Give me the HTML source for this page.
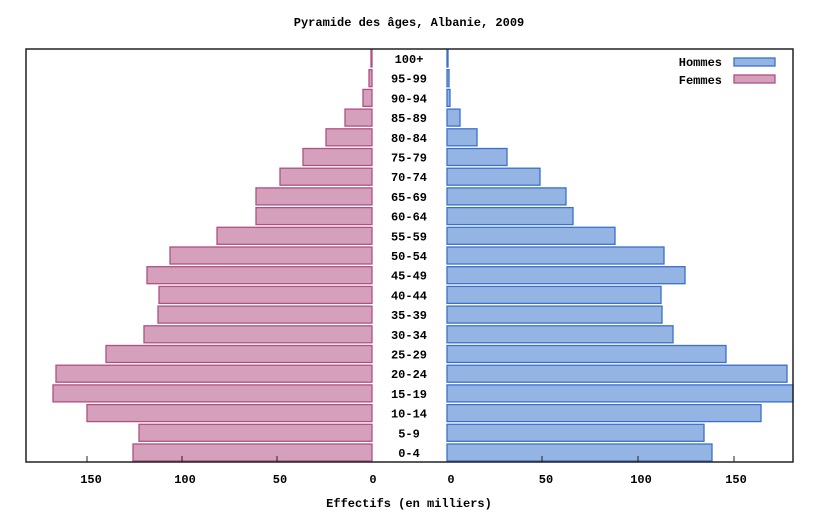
<!DOCTYPE html>
<html><head><meta charset="utf-8"><style>
html,body{margin:0;padding:0;background:#fff;}
svg text{font-family:"Liberation Mono",monospace;font-weight:bold;font-size:12px;fill:#000;}
.f{fill:#d4a0bc;stroke:#b05080;stroke-width:1.3}
.m{fill:#94b4e4;stroke:#3a70c8;stroke-width:1.3}
</style></head><body>
<svg width="819" height="512" xmlns="http://www.w3.org/2000/svg">
<text x="409" y="26" text-anchor="middle">Pyramide des âges, Albanie, 2009</text>
<g>
<rect class="f" x="371" y="50" width="1" height="17"/><rect class="m" x="447" y="50" width="1" height="17"/>
<rect class="f" x="369" y="69.7" width="3" height="17"/><rect class="m" x="447" y="69.7" width="2" height="17"/>
<rect class="f" x="363" y="89.4" width="9" height="17"/><rect class="m" x="447" y="89.4" width="3" height="17"/>
<rect class="f" x="345" y="109.1" width="27" height="17"/><rect class="m" x="447" y="109.1" width="13" height="17"/>
<rect class="f" x="326" y="128.8" width="46" height="17"/><rect class="m" x="447" y="128.8" width="30" height="17"/>
<rect class="f" x="303" y="148.5" width="69" height="17"/><rect class="m" x="447" y="148.5" width="60" height="17"/>
<rect class="f" x="280" y="168.2" width="92" height="17"/><rect class="m" x="447" y="168.2" width="93" height="17"/>
<rect class="f" x="256" y="187.9" width="116" height="17"/><rect class="m" x="447" y="187.9" width="119" height="17"/>
<rect class="f" x="256" y="207.6" width="116" height="17"/><rect class="m" x="447" y="207.6" width="126" height="17"/>
<rect class="f" x="217" y="227.3" width="155" height="17"/><rect class="m" x="447" y="227.3" width="168" height="17"/>
<rect class="f" x="170" y="247" width="202" height="17"/><rect class="m" x="447" y="247" width="217" height="17"/>
<rect class="f" x="147" y="266.7" width="225" height="17"/><rect class="m" x="447" y="266.7" width="238" height="17"/>
<rect class="f" x="159" y="286.4" width="213" height="17"/><rect class="m" x="447" y="286.4" width="214" height="17"/>
<rect class="f" x="158" y="306.1" width="214" height="17"/><rect class="m" x="447" y="306.1" width="215" height="17"/>
<rect class="f" x="144" y="325.8" width="228" height="17"/><rect class="m" x="447" y="325.8" width="226" height="17"/>
<rect class="f" x="106" y="345.5" width="266" height="17"/><rect class="m" x="447" y="345.5" width="279" height="17"/>
<rect class="f" x="56" y="365.2" width="316" height="17"/><rect class="m" x="447" y="365.2" width="340" height="17"/>
<rect class="f" x="53" y="384.9" width="319" height="17"/><rect class="m" x="447" y="384.9" width="346" height="17"/>
<rect class="f" x="87" y="404.6" width="285" height="17"/><rect class="m" x="447" y="404.6" width="314" height="17"/>
<rect class="f" x="139" y="424.3" width="233" height="17"/><rect class="m" x="447" y="424.3" width="257" height="17"/>
<rect class="f" x="133" y="444" width="239" height="17"/><rect class="m" x="447" y="444" width="265" height="17"/>
</g>
<g text-anchor="middle">
<text x="409" y="63">100+</text><text x="409" y="82.7">95-99</text><text x="409" y="102.4">90-94</text>
<text x="409" y="122.1">85-89</text><text x="409" y="141.8">80-84</text><text x="409" y="161.5">75-79</text>
<text x="409" y="181.2">70-74</text><text x="409" y="200.9">65-69</text><text x="409" y="220.6">60-64</text>
<text x="409" y="240.3">55-59</text><text x="409" y="260">50-54</text><text x="409" y="279.7">45-49</text>
<text x="409" y="299.4">40-44</text><text x="409" y="319.1">35-39</text><text x="409" y="338.8">30-34</text>
<text x="409" y="358.5">25-29</text><text x="409" y="378.2">20-24</text><text x="409" y="397.9">15-19</text>
<text x="409" y="417.6">10-14</text><text x="409" y="437.3">5-9</text><text x="409" y="457">0-4</text>
</g>
<rect x="26" y="49" width="767" height="413" fill="none" stroke="#222" stroke-width="1.5"/>
<g stroke="#222" stroke-width="1">
<line x1="87" y1="456" x2="87" y2="462"/><line x1="182" y1="456" x2="182" y2="462"/><line x1="277" y1="456" x2="277" y2="462"/>
<line x1="542" y1="456" x2="542" y2="462"/><line x1="638" y1="456" x2="638" y2="462"/><line x1="734" y1="456" x2="734" y2="462"/>
</g>
<g text-anchor="middle">
<text x="91" y="483">150</text><text x="185" y="483">100</text><text x="280" y="483">50</text><text x="373" y="483">0</text>
<text x="451" y="483">0</text><text x="546" y="483">50</text><text x="641" y="483">100</text><text x="736" y="483">150</text>
<text x="409" y="507">Effectifs (en milliers)</text>
</g>
<text x="722" y="66" text-anchor="end">Hommes</text>
<text x="722" y="84" text-anchor="end">Femmes</text>
<rect x="734" y="58" width="41" height="8" class="m"/>
<rect x="734" y="75" width="41" height="8" class="f"/>
</svg>
</body></html>
